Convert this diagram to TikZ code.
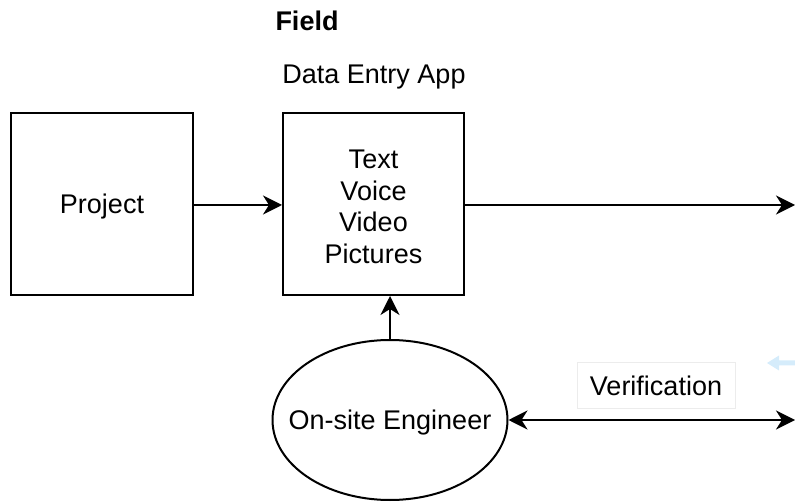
\documentclass[tikz,border=0pt]{standalone}
\usepackage{fontspec}
\setmainfont{Liberation Sans}
\usetikzlibrary{arrows.meta,shapes.geometric}
\definecolor{hintblue}{RGB}{213,236,251}
\definecolor{labelframe}{RGB}{236,236,236}
\begin{document}
\begin{tikzpicture}[x=1pt,y=-1pt,
  every node/.style={font=\fontsize{27}{31.6}\selectfont, inner sep=0pt},
  inside/.style={label={[align=center, yshift=-3pt]center:#1}},
  block/.style={draw, line width=2pt, rectangle, minimum width=182pt, minimum height=182pt},
  actor/.style={draw, line width=2pt, ellipse, minimum width=235pt, minimum height=160pt},
  tip/.style={Stealth[length=19pt,width=19pt,inset=6pt]},
  flow/.style={line width=2pt, -{Stealth[length=19pt,width=19pt,inset=6pt]}},
  biflow/.style={line width=2pt, {Stealth[length=19pt,width=19pt,inset=6pt]}-{Stealth[length=19pt,width=19pt,inset=6pt]}}
]
\useasboundingbox (0,0) rectangle (795,502);

% headings
\node[font=\fontsize{27}{31.6}\selectfont\bfseries] (field) at (307,21) {Field};
\node (apptitle) at (374,77) {Data Entry App};

% boxes
\node[block, inside={Project}] (project) at (102,204) {};
\node[block, minimum width=181pt, inside={Text\\Voice\\Video\\Pictures}] (app) at (373.5,204) {};
\node[actor, inside={On-site Engineer}] (engineer) at (390,420) {};

% label of the verification link
\node[draw=labelframe, line width=1pt, fill=white, minimum width=158pt, minimum height=45pt] (verif) at (656,385.5) {Verification};

% loose ends at the right border
\coordinate (outA) at (795,205);
\coordinate (outB) at (795,420);

% connectors
\draw[flow] (project.east |- 0,205) -- (app.west |- 0,205);
\draw[flow] (app.east |- 0,205) -- (outA);
\draw[flow] (engineer.north) -- (app.south -| engineer.north);
\draw[biflow] (engineer.east) -- (outB);

% faint hint arrow
\fill[hintblue] (767,363) -- (779,355.5) -- (779,360.5) -- (795,360.5) -- (795,365.5) -- (779,365.5) -- (779,370.5) -- cycle;
\end{tikzpicture}
\end{document}
